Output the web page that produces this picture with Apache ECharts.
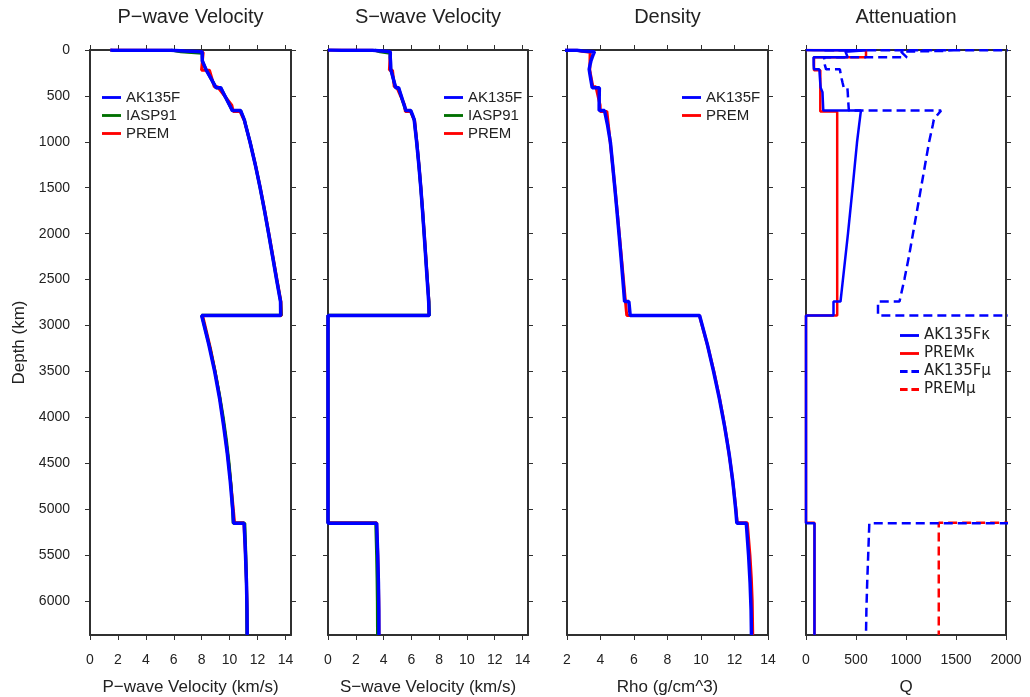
<!DOCTYPE html>
<html><head><meta charset="utf-8">
<script src="https://cdn.jsdelivr.net/npm/echarts@6/dist/echarts.min.js"></script>
<style>html,body{margin:0;padding:0;background:#fff}#c{width:1030px;height:697px}</style>
</head><body><div id="c"></div>
<script>
// ---------------- DATA ----------------
// Titles / axis names
const panelTitles = ['P\u2212wave Velocity', 'S\u2212wave Velocity', 'Density', 'Attenuation'];
const axisNames = ['P\u2212wave Velocity (km/s)', 'S\u2212wave Velocity (km/s)', 'Rho (g/cm^3)', 'Q'];
const velocityTicks = [0, 2, 4, 6, 8, 10, 12, 14];
const rhoTicks = [2, 4, 6, 8, 10, 12, 14];
const qTicks = [0, 500, 1000, 1500, 2000];
const depthTicks = [0, 500, 1000, 1500, 2000, 2500, 3000, 3500, 4000, 4500, 5000, 5500, 6000];

// AK135F
const akDepth = [0,3,3,3.3,3.3,10,10,18,18,43,80,80,120,165,210,210,260,310,360,410,410,460,510,560,610,660,660,710,760,809.5,1007.5,1255,1502.5,1750,1997.5,2245,2492.5,2740,2740,2891.5,2891.5,3200,3500,3800,4100,4400,4700,5000,5153.5,5153.5,5500,5800,6100,6371];
const akVp = [1.45,1.45,1.65,1.65,5.8,5.8,6.8,6.8,8.0355,8.0379,8.04,8.045,8.0505,8.175,8.3007,8.3007,8.4822,8.665,8.8476,9.0302,9.3601,9.528,9.6962,9.864,10.032,10.2,10.7909,10.9222,11.0553,11.1355,11.4704,11.8491,12.1912,12.503,12.7956,13.0786,13.3584,13.6498,13.6498,13.6601,8.0,8.5,8.93,9.29,9.58,9.84,10.05,10.22,10.289,11.0427,11.14,11.21,11.25,11.2622];
const akVs = [0,0,1.0,1.0,3.2,3.2,3.9,3.9,4.4839,4.4856,4.48,4.49,4.5,4.509,4.5184,4.5184,4.6094,4.6964,4.7832,4.8702,5.0806,5.1864,5.2922,5.3989,5.5047,5.6104,5.9607,6.0898,6.21,6.2424,6.386,6.5431,6.6813,6.8056,6.9194,7.0286,7.1368,7.2485,7.2485,7.2817,0,0,0,0,0,0,0,0,0,3.5043,3.58,3.63,3.66,3.6678];
const akRho = [1.02,1.02,2.0,2.0,2.6,2.6,2.92,2.92,3.641,3.5801,3.502,3.502,3.4268,3.3711,3.3243,3.3243,3.3663,3.411,3.4577,3.5068,3.9317,3.9273,3.9233,3.9218,3.9206,3.9201,4.2387,4.2986,4.3565,4.4118,4.5926,4.7266,4.8562,4.9817,5.1027,5.2192,5.3313,5.4387,5.6934,5.7721,9.9145,10.37,10.75,11.1,11.41,11.68,11.9,12.07,12.1391,12.7037,12.84,12.93,12.99,13.0122];
// Attenuation curves as labelled in the chart legend
const akQkappa = [0,0,80,80,599.99,599.99,599.99,599.99,394.62,403.93,417.59,75.6,76.06,76.55,79.4,133.72,136.38,139.38,142.76,146.57,162.5,164.87,166.8,168.78,170.82,172.93,549.45,543.48,537.63,531.91,510,488,466,443,420,395,370,345,275,275,0,0,0,0,0,0,0,0,0,85.03,85,84.8,84.7,84.6];
const akQmu = [57822,57822,163.35,163.35,1478.3,1478.3,1368.02,1368.02,950.5,972.77,1008.71,182.03,182.57,188.72,200.97,338.47,346.37,355.85,366.34,377.42,413.66,417.32,419.94,422.55,425.51,428.69,1350.54,1311.17,1277.93,1269.44,1230,1190,1150,1110,1070,1030,985,935,720,720,57822,57822,57822,57822,57822,57822,57822,57822,57822,633.26,622,612,604,600];

// IASP91
const iaDepth = [0,20,20,35,35,80,120,165,210,210,260,310,360,410,410,460,510,560,610,660,660,710,760,1000,1250,1500,1750,2000,2250,2500,2740,2889,2889,3250,3500,3750,4000,4250,4500,4750,5000,5153.9,5153.9,5500,5750,6000,6371];
const iaVp = [5.8,5.8,6.5,6.5,8.04,8.0453,8.05,8.175,8.2999,8.2999,8.4825,8.665,8.8476,9.0299,9.3599,9.528,9.696,9.864,10.0321,10.1999,10.7899,10.9229,11.0557,11.4639,11.8428,12.185,12.4988,12.7948,13.0812,13.3701,13.6564,13.6908,8.0087,8.5987,8.9557,9.2708,9.5438,9.7745,9.9632,10.1098,10.2143,10.2578,11.0914,11.1644,11.202,11.2271,11.2409];
const iaVs = [3.36,3.36,3.75,3.75,4.47,4.4859,4.5,4.509,4.518,4.522,4.609,4.696,4.7831,4.87,5.07,5.176,5.282,5.3881,5.4941,5.5999,5.9499,6.0797,6.2096,6.3832,6.5409,6.6797,6.8047,6.9211,7.0338,7.1483,7.2645,7.3015,0,0,0,0,0,0,0,0,0,0,3.4385,3.5,3.5317,3.5528,3.5645];

// PREM
const premDepth = [0,3,3,15,15,24.4,24.4,80,80,220,220,400,400,600,670,670,771,1000,1250,1500,1750,2000,2250,2500,2741,2891,2891,3250,3500,3750,4000,4250,4500,4750,5000,5149.5,5149.5,5500,5750,6000,6371];
const premVp = [1.45,1.45,5.8,5.8,6.8,6.8,8.1107,8.0762,8.0762,7.9897,8.5589,8.9053,9.134,10.158,10.2661,10.7516,11.0657,11.4636,11.8513,12.1999,12.519,12.8179,13.1061,13.3942,13.6805,13.7166,8.0648,8.6281,8.9629,9.2559,9.512,9.7364,9.9337,10.1091,10.2672,10.356,11.0285,11.1433,11.2017,11.2406,11.2622];
const premVs = [0,0,3.2,3.2,3.9,3.9,4.4909,4.4705,4.4705,4.4189,4.6439,4.7699,4.9326,5.516,5.5702,5.9451,6.2404,6.397,6.5502,6.6885,6.8148,6.9329,7.0458,7.1572,7.2659,7.2646,0,0,0,0,0,0,0,0,0,0,3.5044,3.5847,3.6255,3.6527,3.6678];
const premRho = [1.02,1.02,2.6,2.6,2.9,2.9,3.3808,3.3747,3.3747,3.3595,3.4358,3.5433,3.7238,3.9758,3.9921,4.3806,4.4432,4.5801,4.7229,4.8599,4.9921,5.1207,5.2467,5.3715,5.4915,5.5664,9.9035,10.4383,10.7664,11.0602,11.3217,11.5531,11.7561,11.9331,12.0857,12.1666,12.7639,12.9233,13.0045,13.0585,13.0885];
const premQkappa = [0,0,600,600,600,600,600,600,80,80,143,143,143,143,143,312,312,312,312,312,312,312,312,312,312,312,0,0,0,0,0,0,0,0,0,0,84.6,84.6,84.6,84.6,84.6];
const premQmu = [57823,57823,57823,57823,57823,57823,57823,57823,57823,57823,57823,57823,57823,57823,57823,57823,57823,57823,57823,57823,57823,57823,57823,57823,57823,57823,57823,57823,57823,57823,57823,57823,57823,57823,57823,57823,1327.7,1327.7,1327.7,1327.7,1327.7];

// ---------------- CHART ----------------
const FONT = '"Liberation Sans", Arial, Helvetica, sans-serif';
const TXT = '#222';
const FRAME = '#303030';
const BLUE = '#0000ff', RED = '#ff0000', GREEN = '#007000';

const panels = [
  {left: 90, width: 201, min: 0, max: 14.4, ticks: velocityTicks},
  {left: 328, width: 200, min: 0, max: 14.4, ticks: velocityTicks},
  {left: 567, width: 201, min: 2, max: 14, ticks: rhoTicks},
  {left: 806, width: 200, min: 0, max: 2000, ticks: qTicks}
];
const TOP = 50, HEIGHT = 585;

const pairs = (vals, depth) => depth.map((d, i) => [vals[i], d]);
const plain = (v) => String(v);

const grid = [], xAxis = [], yAxis = [], series = [], graphic = [];
const frameLine = {show: true, onZero: false, lineStyle: {color: FRAME, width: 2}};
const tickStyle = (vals) => ({show: true, length: 5, customValues: vals, lineStyle: {color: FRAME, width: 1}});

panels.forEach((p, i) => {
  grid.push({left: p.left, top: TOP, width: p.width, height: HEIGHT, containLabel: false, outerBoundsMode: 'none'});
  xAxis.push({
    type: 'value', gridIndex: i, position: 'bottom', min: p.min, max: p.max,
    axisLine: frameLine, axisTick: tickStyle(p.ticks),
    axisLabel: {customValues: p.ticks, formatter: plain, margin: 18, fontSize: 14, color: TXT, fontFamily: FONT},
    splitLine: {show: false},
    name: axisNames[i], nameLocation: 'middle', nameGap: 44,
    nameTextStyle: {fontSize: 17, color: TXT, fontFamily: FONT}
  });
  xAxis.push({
    type: 'value', gridIndex: i, position: 'top', min: p.min, max: p.max,
    axisLine: frameLine, axisTick: tickStyle(p.ticks), axisLabel: {show: false}, splitLine: {show: false}
  });
  yAxis.push({
    type: 'value', gridIndex: i, position: 'left', inverse: true, min: 0, max: 6371,
    axisLine: frameLine, axisTick: tickStyle(depthTicks),
    axisLabel: {show: i === 0, customValues: depthTicks, formatter: plain, margin: 20, fontSize: 14, color: TXT, fontFamily: FONT},
    splitLine: {show: false},
    name: i === 0 ? 'Depth (km)' : '', nameLocation: 'middle', nameGap: 62, nameRotate: 90,
    nameTextStyle: {fontSize: 17, color: TXT, fontFamily: FONT}
  });
  yAxis.push({
    type: 'value', gridIndex: i, position: 'right', inverse: true, min: 0, max: 6371,
    axisLine: frameLine, axisTick: tickStyle(depthTicks), axisLabel: {show: false}, splitLine: {show: false}
  });
  graphic.push({
    type: 'text', x: p.left + p.width / 2, y: 17, silent: true,
    style: {text: panelTitles[i], fill: TXT, font: '20px ' + FONT, textAlign: 'center', textVerticalAlign: 'middle', align: 'center', verticalAlign: 'middle'}
  });
});

function line(name, panel, vals, depth, color, width, dashed) {
  series.push({
    name, type: 'line', xAxisIndex: panel * 2, yAxisIndex: panel * 2,
    data: pairs(vals, depth), symbol: 'none', showSymbol: false, silent: true, clip: true,
    lineStyle: {color, width, type: dashed ? [9, 5] : 'solid'},
    itemStyle: {color}, emphasis: {disabled: true}
  });
}
// panel 1
line('PREM', 0, premVp, premDepth, RED, 3);
line('IASP91', 0, iaVp, iaDepth, GREEN, 3);
line('AK135F', 0, akVp, akDepth, BLUE, 3.5);
// panel 2
line('PREM', 1, premVs, premDepth, RED, 3);
line('IASP91', 1, iaVs, iaDepth, GREEN, 3);
line('AK135F', 1, akVs, akDepth, BLUE, 3.5);
// panel 3
line('PREM', 2, premRho, premDepth, RED, 3);
line('AK135F', 2, akRho, akDepth, BLUE, 3.5);
// panel 4
line('PREM\u03ba', 3, premQkappa, premDepth, RED, 2.5);
line('PREM\u03bc', 3, premQmu, premDepth, RED, 2.5, true);
line('AK135F\u03ba', 3, akQkappa, akDepth, BLUE, 2.5);
line('AK135F\u03bc', 3, akQmu, akDepth, BLUE, 2.5, true);

const SOLID_ICON = 'path://M0,0H20V3H0Z';
const DASH_ICON = 'path://M0,0H8V3H0Z M12,0H20V3H12Z';
const items = (names, dashedFlags) => names.map((n, k) => ({name: n, icon: dashedFlags && dashedFlags[k] ? DASH_ICON : SOLID_ICON}));

const legendBase = {
  orient: 'vertical', padding: 0, itemWidth: 19, itemHeight: 14, itemGap: 3,
  selectedMode: false, textStyle: {fontSize: 15, color: TXT, fontFamily: FONT, lineHeight: 14}
};
const legend = [
  Object.assign({}, legendBase, {left: 102, top: 90, data: items(['AK135F', 'IASP91', 'PREM'])}),
  Object.assign({}, legendBase, {left: 444, top: 90, data: items(['AK135F', 'IASP91', 'PREM'])}),
  Object.assign({}, legendBase, {left: 682, top: 90, data: items(['AK135F', 'PREM'])}),
  Object.assign({}, legendBase, {left: 900, top: 328,
    data: items(['AK135F\u03ba', 'PREM\u03ba', 'AK135F\u03bc', 'PREM\u03bc'], [false, false, true, true]),
    textStyle: {fontSize: 15, color: TXT, fontFamily: '"DejaVu Sans", sans-serif', lineHeight: 14}})
];

const chart = echarts.init(document.getElementById('c'), null, {renderer: 'canvas'});
chart.setOption({
  animation: false,
  backgroundColor: '#fff',
  grid, xAxis, yAxis, series, legend, graphic
});
</script>
</body></html>
